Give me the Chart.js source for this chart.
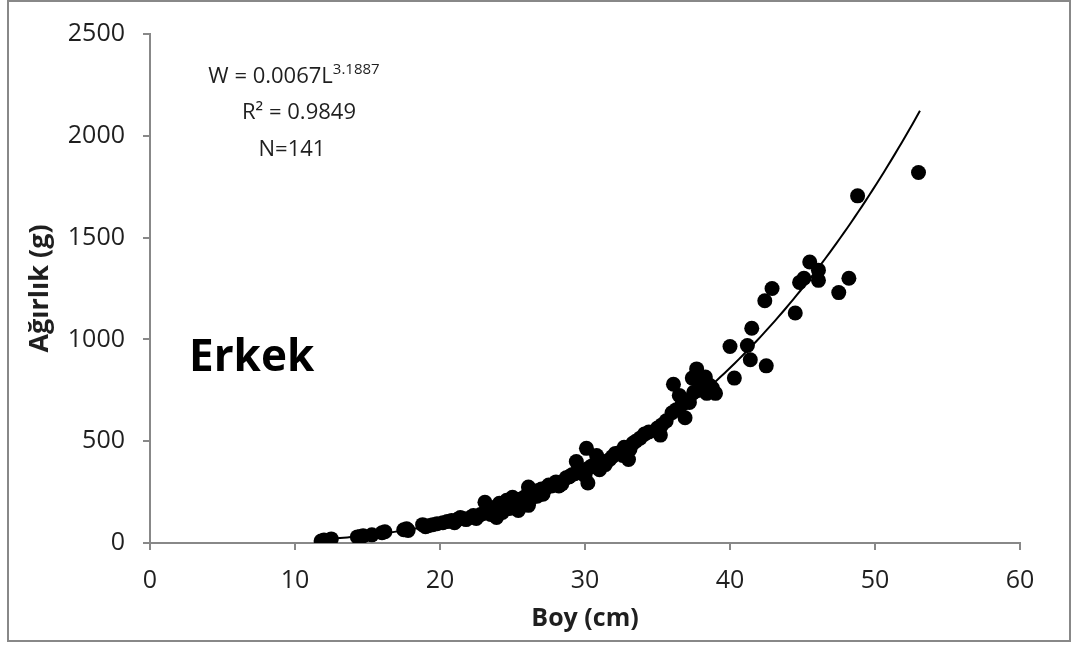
<!DOCTYPE html>
<html>
<head>
<meta charset="utf-8">
<script src="https://cdn.jsdelivr.net/npm/chart.js@4.4.1/dist/chart.umd.min.js"></script>
<style>
    html, body { margin: 0; padding: 0; background: #fff; }
    #kutu { width: 1075px; height: 646px; }
</style>
</head>
<body>
<div id="kutu"><canvas id="grafica" width="1075" height="646"></canvas></div>
<script>
// Boy (cm) ve Ağırlık (g) - okunan noktalar
const boy = [
    11.8, 12.5, 14.3, 14.7, 15.3, 16.2, 17.5, 17.7, 18.8, 19.2,
    19.8, 20.5, 21.2, 21.6, 22.1, 22.6, 23.0, 23.1, 23.4, 23.8,
    23.9, 24.1, 24.3, 24.6, 24.8, 25.0, 25.2, 25.4, 25.7, 26.1,
    26.1, 26.3, 26.6, 26.9, 27.1, 27.5, 27.9, 28.2, 28.7, 29.1,
    29.4, 29.7, 30.1, 30.2, 30.3, 30.8, 31.0, 31.4, 31.9, 32.4,
    32.7, 33.0, 33.3, 33.8, 34.1, 35.0, 35.2, 35.3, 36.1, 36.3,
    36.5, 36.9, 37.2, 37.4, 37.7, 37.9, 38.3, 38.4, 38.6, 39.0,
    40.0, 40.3, 41.2, 41.4, 41.5, 42.4, 42.5, 42.9, 44.5, 44.8,
    45.1, 45.5, 46.1, 46.1, 47.5, 48.2, 48.8, 53.0,
    19.0, 19.5, 20.2, 20.8, 21.0, 21.4, 21.8, 22.3, 22.5, 22.8,
    23.2, 23.5, 23.7, 24.0, 24.2, 24.4, 24.5, 24.7, 24.9, 25.1,
    25.3, 25.5, 25.6, 25.8, 26.0, 26.2, 26.4, 26.7, 27.0, 27.3,
    27.7, 28.0, 28.4, 28.9, 29.3, 29.8, 30.0, 30.5, 31.2, 31.7,
    32.1, 32.6, 33.1, 33.5, 34.4, 35.1, 35.6, 36.0, 36.7, 37.0,
    37.5, 38.0, 38.8, 12.0, 14.5, 16.0, 17.8
];
const agirlik = [
    10, 20, 30, 35, 40, 55, 65, 70, 90, 85,
    95, 105, 115, 120, 125, 130, 145, 200, 160, 175,
    125, 195, 150, 210, 170, 225, 185, 160, 210, 275,
    185, 235, 255, 260, 240, 285, 290, 280, 320, 335,
    400, 345, 465, 295, 370, 430, 360, 385, 425, 445,
    470, 410, 490, 515, 535, 565, 530, 580, 780, 655,
    725, 615, 690, 810, 855, 750, 815, 735, 775, 735,
    965, 810, 970, 900, 1055, 1190, 870, 1250, 1130, 1280,
    1300, 1380, 1340, 1290, 1230, 1300, 1705, 1820,
    80, 90, 100, 110, 100, 125, 115, 135, 120, 140,
    150, 140, 165, 180, 165, 185, 170, 195, 200, 175,
    200, 215, 190, 225, 230, 210, 245, 230, 265, 270,
    280, 300, 290, 325, 340, 360, 330, 380, 400, 410,
    440, 430, 460, 500, 545, 555, 600, 640, 680, 700,
    740, 770, 760, 15, 32, 50, 62
];

// Üssel eğilim çizgisi: W = a * L^b (grafikteki denklem)
const katsayiA = 0.0067;
const usB = 3.1887;
const egilimBas = 11.6;
const egilimSon = 53.1;

const xEtiketler = [0, 10, 20, 30, 40, 50, 60];
const yEtiketler = [0, 500, 1000, 1500, 2000, 2500];

const grafica = document.getElementById("grafica");
const gri = "#888888";
const yazi = "#1f1f1f";

let noktalar = boy.map((l, i) => ({ x: l, y: agirlik[i] }));

let egilim = [];
for (let l = egilimBas; l <= egilimSon + 0.001; l += 0.25) {
    egilim.push({ x: l, y: katsayiA * Math.pow(l, usB) });
}

// çerçeve ve yazılar
const cercevePlugin = {
    id: "cerceve",
    beforeDraw(chart) {
        const ctx = chart.ctx;
        ctx.save();
        ctx.fillStyle = "#fff";
        ctx.fillRect(0, 0, chart.width, chart.height);
        ctx.strokeStyle = gri;
        ctx.lineWidth = 2;
        ctx.strokeRect(8, 1, 1062, 640);
        ctx.restore();
    },
    afterDatasetsDraw(chart) {
        const ctx = chart.ctx;
        ctx.save();
        ctx.fillStyle = yazi;
        ctx.textBaseline = "alphabetic";

        // denklem
        const ana = "W = 0.0067L";
        const ust = "3.1887";
        ctx.font = "22px 'Open Sans'";
        const w1 = ctx.measureText(ana).width;
        ctx.font = "15px 'Open Sans'";
        const w2 = ctx.measureText(ust).width;
        const bas = 294 - (w1 + w2) / 2;
        ctx.font = "22px 'Open Sans'";
        ctx.textAlign = "left";
        ctx.fillText(ana, bas, 83);
        ctx.font = "15px 'Open Sans'";
        ctx.fillText(ust, bas + w1, 74);

        ctx.font = "22px 'Open Sans'";
        ctx.textAlign = "center";
        ctx.fillText("R\u00B2 = 0.9849", 299, 119);
        ctx.fillText("N=141", 292, 156);

        ctx.font = "bold 44px 'Open Sans'";
        ctx.textAlign = "left";
        ctx.fillStyle = "#000";
        ctx.fillText("Erkek", 189, 371);
        ctx.restore();
    }
};

const datos = {
    datasets: [
        {
            label: "Eğilim",
            data: egilim,
            showLine: true,
            borderColor: "#000",
            borderWidth: 2,
            pointRadius: 0,
            fill: false,
        },
        {
            label: "Erkek",
            data: noktalar,
            backgroundColor: "#000",
            borderColor: "#000",
            pointRadius: 7.5,
            borderWidth: 0,
        },
    ],
};

const options = {
    responsive: false,
    animation: false,
    layout: { padding: { top: 34, right: 55, left: 0, bottom: 0 } },
    plugins: {
        legend: { display: false },
        tooltip: { enabled: false },
    },
    scales: {
        x: {
            type: "linear",
            min: 0,
            max: 60,
            afterBuildTicks: (s) => { s.ticks = xEtiketler.map(v => ({ value: v })); },
            afterFit: (s) => { s.height = 103; },
            ticks: { color: yazi, font: { family: "'Open Sans'", size: 25 }, padding: 16, callback: (v) => String(v) },
            grid: { drawOnChartArea: false, drawTicks: true, tickLength: 7, color: gri, lineWidth: 2 },
            border: { display: true, color: gri, width: 2 },
            title: {
                display: true,
                text: "Boy (cm)",
                color: yazi,
                font: { family: "'Open Sans'", size: 25, weight: "bold" },
                padding: { top: 0, bottom: 12 },
            },
        },
        y: {
            type: "linear",
            min: 0,
            max: 2500,
            afterBuildTicks: (s) => { s.ticks = yEtiketler.map(v => ({ value: v })); },
            afterFit: (s) => { s.width = 150; },
            ticks: { color: yazi, font: { family: "'Open Sans'", size: 25 }, padding: 18, callback: (v) => String(v) },
            grid: { drawOnChartArea: false, drawTicks: true, tickLength: 7, color: gri, lineWidth: 2 },
            border: { display: true, color: gri, width: 2 },
            title: {
                display: true,
                text: "Ağırlık (g)",
                color: yazi,
                font: { family: "'Open Sans'", size: 27, weight: "bold" },
                padding: { top: 24, bottom: 0 },
            },
        },
    },
};

const configuracion = {
    type: "scatter",
    data: datos,
    options: options,
    plugins: [cercevePlugin],
};

window.myChart = new Chart(grafica, configuracion);
</script>
</body>
</html>
